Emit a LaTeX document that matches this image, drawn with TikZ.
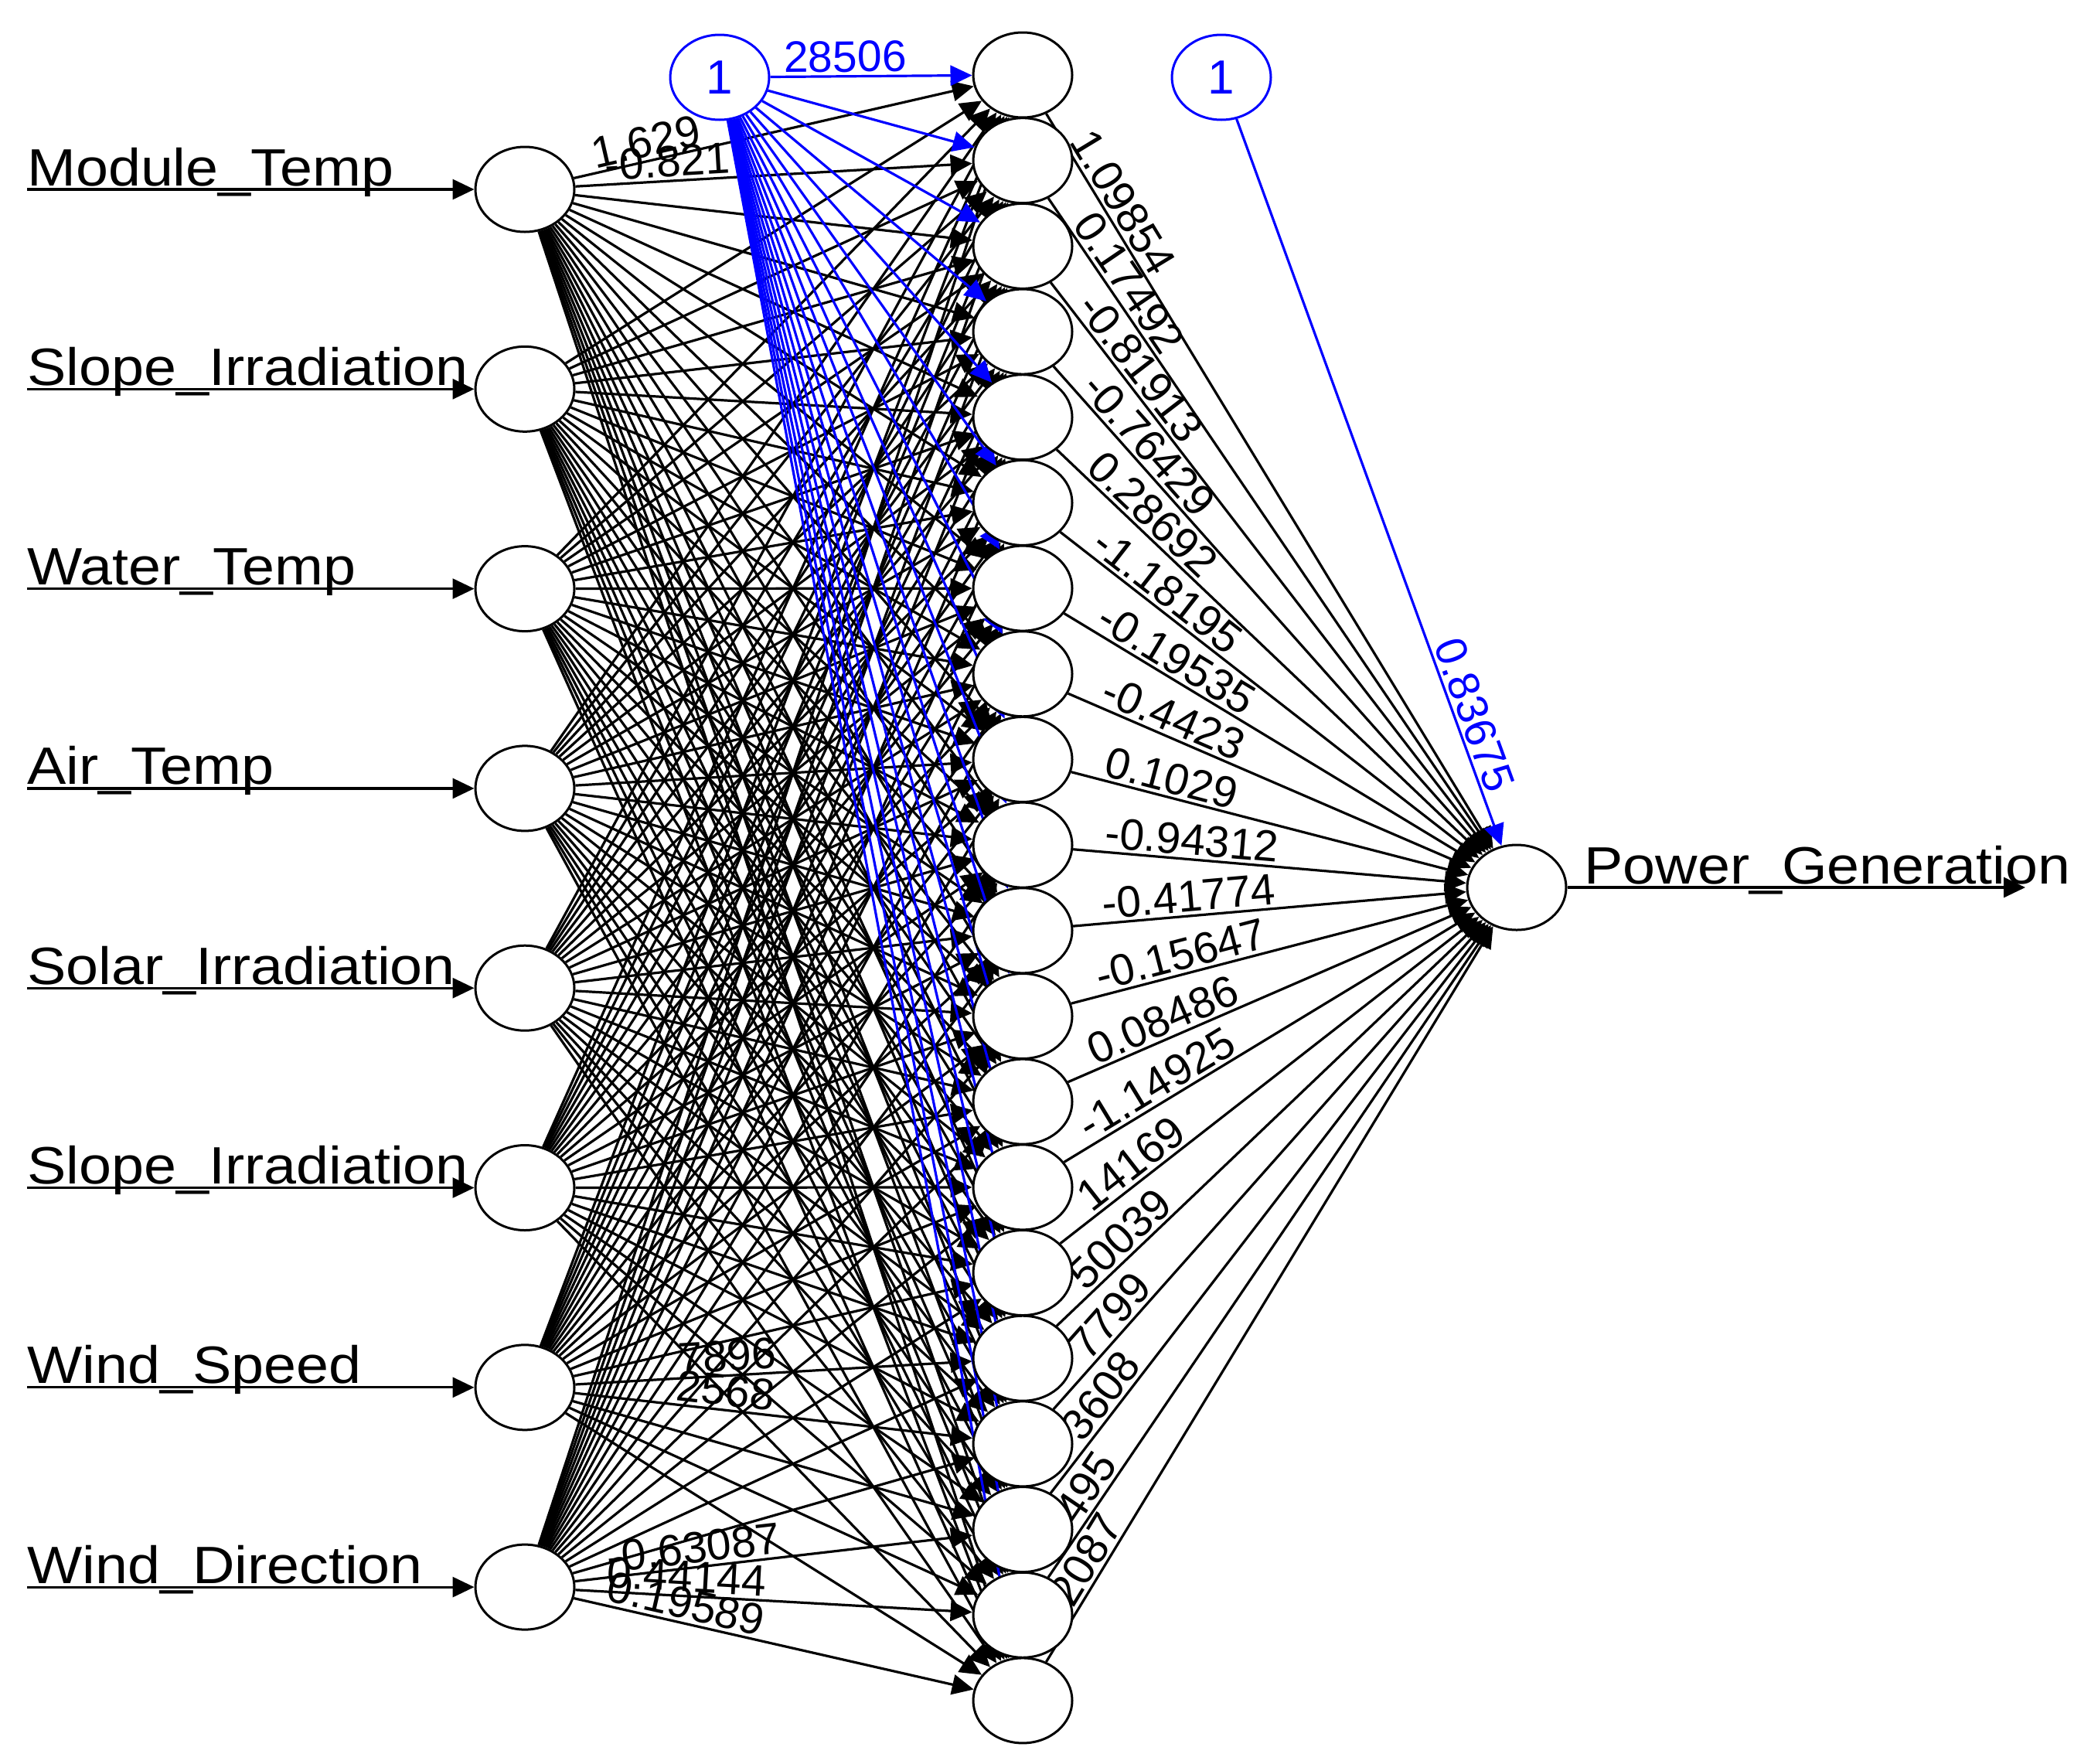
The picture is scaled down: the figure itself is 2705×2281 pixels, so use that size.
\documentclass[tikz,border=0pt]{standalone}
\usepackage{fontspec}
\setmainfont{Liberation Sans}
\usetikzlibrary{arrows.meta,shapes.geometric,calc}
\pgfdeclarelayer{bg}
\pgfsetlayers{bg,main}
% left-justified weight label at distance #4 from #2 towards #3
\newcommand\mywlab[5]{%
  \path let \p1=($(#3)-(#2)$), \n1={atan2(\y1,\x1)} in
    node[#1,rotate=\n1] at ($(#2)!#4pt!(#3)$) {#5};}
% right-justified weight label ending at distance #4 before #3
\newcommand\mybwlab[5]{%
  \path let \p1=($(#3)-(#2)$), \n1={atan2(\y1,\x1)} in
    node[#1,rotate=\n1] at ($(#3)!#4pt!(#2)$) {#5};}
\begin{document}
\begin{tikzpicture}[x=1pt,y=1pt,
  neuron/.style={ellipse,draw=black,fill=white,line width=3pt,
    minimum width=128pt,minimum height=110pt,inner sep=0pt},
  biasn/.style={neuron,draw=blue,text=blue,font=\fontsize{62}{62}\selectfont},
  syn/.style={line width=3.2pt,-{Triangle[length=28pt,width=26pt]}},
  bsyn/.style={syn,draw=blue,fill=blue},
  wl/.style={font=\fontsize{57}{57}\selectfont,inner xsep=0pt,inner ysep=5pt,anchor=south west},
  bwl/.style={wl,text=blue,anchor=south east},
  iolab/.style={font=\fontsize{68}{68}\selectfont,inner sep=0pt,anchor=base west},
]
\path[use as bounding box] (0,0) rectangle (2705,-2281);

% nodes
\foreach \i in {1,...,8} \node[neuron] (in\i) at (679,{-245-(\i-1)*258.3}) {};
\foreach \j in {1,...,20} \node[neuron] (h\j) at (1323,{-97-(\j-1)*110.68}) {};
\node[neuron] (out) at (1962,-1148) {};
\node[biasn] (b1) at (931,-100) {1};
\node[biasn] (b2) at (1580,-100) {1};

\begin{pgfonlayer}{bg}
% input -> hidden
\foreach \i in {1,...,8} \foreach \j in {1,...,20} \draw[syn] (in\i) -- (h\j);
\mywlab{wl}{in1}{h1}{95}{1.629}
\mywlab{wl}{in1}{h2}{105}{-0.821}
\mywlab{wl}{in7}{h16}{200}{7896}
\mywlab{wl}{in7}{h17}{195}{2568}
\mywlab{wl}{in8}{h18}{110}{-0.63087}
\mywlab{wl}{in8}{h19}{105}{0.44144}
\mywlab{wl}{in8}{h20}{105}{0.19589}
% bias -> hidden
\foreach \j in {1,...,20} \draw[bsyn] (b1) -- (h\j);
\mybwlab{bwl}{b1}{h1}{150}{28506}
% hidden -> output
\foreach \j in {1,...,20} \draw[syn] (h\j) -- (out);
\foreach \j/\w in {1/1.09854,2/0.17492,3/-0.81913,4/-0.76429,5/0.28692,
  6/-1.18195,7/-0.19535,8/-0.4423,9/0.1029,10/-0.94312,11/-0.41774,
  12/-0.15647,13/0.08486,14/-1.14925}
  {\mywlab{wl}{h\j}{out}{105}{\w}}
\foreach \j/\w in {15/14169,16/50039}
  {\mywlab{wl}{h\j}{out}{118}{\w}}
\foreach \j/\w in {17/7799,18/3608,19/495,20/2087}
  {\mywlab{wl}{h\j}{out}{135}{\w}}
% bias -> output
\draw[bsyn] (b2) -- (out);
\mybwlab{bwl}{b2}{out}{125}{0.83675}
\end{pgfonlayer}

% input arrows and names
\foreach \i/\t in {1/Module\_Temp,2/Slope\_Irradiation,3/Water\_Temp,4/Air\_Temp,
  5/Solar\_Irradiation,6/Slope\_Irradiation,7/Wind\_Speed,8/Wind\_Direction}{
  \coordinate (s\i) at (35,{-245-(\i-1)*258.3});
  \draw[syn] (s\i) -- (in\i);
  \node[iolab] (t\i) at ($(s\i)+(0,5)$) {\scalebox{1.11}[1]{\t}};
}
% output arrow and name
\coordinate (oe) at (2620,-1148);
\draw[syn] (out) -- (oe);
\node[iolab] (tout) at (2049,-1143) {\scalebox{1.11}[1]{Power\_Generation}};
\end{tikzpicture}
\end{document}
